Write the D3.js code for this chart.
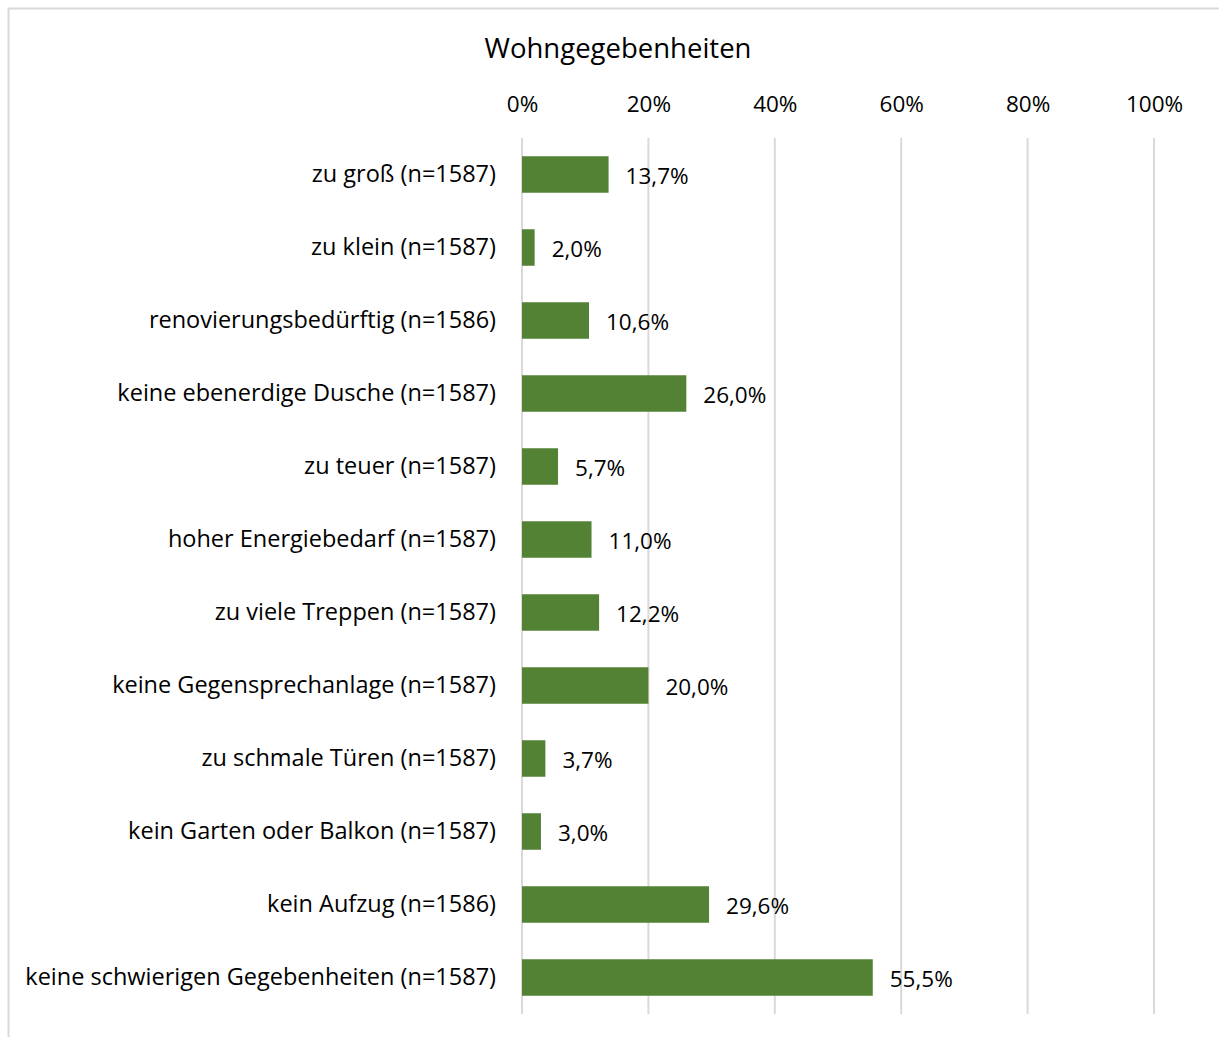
<!DOCTYPE html>
<html>
<head>
<meta charset="utf-8">
<script src="https://cdn.jsdelivr.net/npm/d3@7"></script>
<style>
  body { margin: 0; background: #fff; }
  text { font-family: "Open Sans", sans-serif; fill: #000; }
</style>
</head>
<body>
<svg id="chart"></svg>
<script>
// data
var categories = [
    "zu groß (n=1587)",
    "zu klein (n=1587)",
    "renovierungsbedürftig (n=1586)",
    "keine ebenerdige Dusche (n=1587)",
    "zu teuer (n=1587)",
    "hoher Energiebedarf (n=1587)",
    "zu viele Treppen (n=1587)",
    "keine Gegensprechanlage (n=1587)",
    "zu schmale Türen (n=1587)",
    "kein Garten oder Balkon (n=1587)",
    "kein Aufzug (n=1586)",
    "keine schwierigen Gegebenheiten (n=1587)"
];
var values = [13.7, 2.0, 10.6, 26.0, 5.7, 11.0, 12.2, 20.0, 3.7, 3.0, 29.6, 55.5];
var ticks = [0, 20, 40, 60, 80, 100];

var width = 1219, height = 1037;
var plotLeft = 522, plotRight = 1154, plotTop = 138, plotBottom = 1014;
var fontSize = 22.5;

var svg = d3.select("#chart")
    .attr("width", width)
    .attr("height", height);

// outer frame (cut off at right and bottom like the picture)
svg.append("rect")
    .attr("x", 8.5).attr("y", 8.5)
    .attr("width", width + 20).attr("height", height + 20)
    .attr("fill", "none")
    .attr("stroke", "#d9d9d9")
    .attr("stroke-width", 2);

var x = d3.scaleLinear().domain([0, 100]).range([plotLeft, plotRight]);
var y = d3.scaleBand().domain(categories).range([plotTop, plotBottom]).paddingInner(0.5).paddingOuter(0.25);

// gridlines
svg.append("g")
    .selectAll("line")
    .data(ticks)
    .enter().append("line")
    .attr("x1", function (d) { return x(d); })
    .attr("x2", function (d) { return x(d); })
    .attr("y1", plotTop)
    .attr("y2", plotBottom)
    .attr("stroke", "#d9d9d9")
    .attr("stroke-width", 2);

// top axis labels
var xAxis = svg.append("g")
    .attr("transform", "translate(0," + 112 + ")")
    .call(d3.axisTop(x).tickValues(ticks).tickSize(0).tickPadding(0).tickFormat(function (d) { return d + "%"; }));
xAxis.select(".domain").remove();
xAxis.selectAll("text").attr("font-size", fontSize).attr("font-family", "'Open Sans', sans-serif");

// category axis
var yAxis = svg.append("g")
    .attr("transform", "translate(" + 496 + ",0)")
    .call(d3.axisLeft(y).tickSize(0).tickPadding(0));
yAxis.select(".domain").remove();
yAxis.selectAll("text").attr("font-size", 23.5).attr("font-family", "'Open Sans', sans-serif");

// bars
svg.selectAll("rect.bar")
    .data(values)
    .enter().append("rect")
    .attr("class", "bar")
    .attr("x", x(0))
    .attr("y", function (d, i) { return y(categories[i]); })
    .attr("width", function (d) { return x(d) - x(0); })
    .attr("height", y.bandwidth())
    .attr("fill", "#548235");

// value labels
svg.selectAll("text.val")
    .data(values)
    .enter().append("text")
    .attr("class", "val")
    .attr("x", function (d) { return x(d) + 17; })
    .attr("y", function (d, i) { return y(categories[i]) + y.bandwidth() / 2 + 2; })
    .attr("dy", "0.35em")
    .attr("font-size", fontSize)
    .text(function (d) { return d.toFixed(1).replace(".", ",") + "%"; });

// title
svg.append("text")
    .attr("x", 618)
    .attr("y", 58)
    .attr("text-anchor", "middle")
    .attr("font-size", 27.5)
    .text("Wohngegebenheiten");
</script>
</body>
</html>
